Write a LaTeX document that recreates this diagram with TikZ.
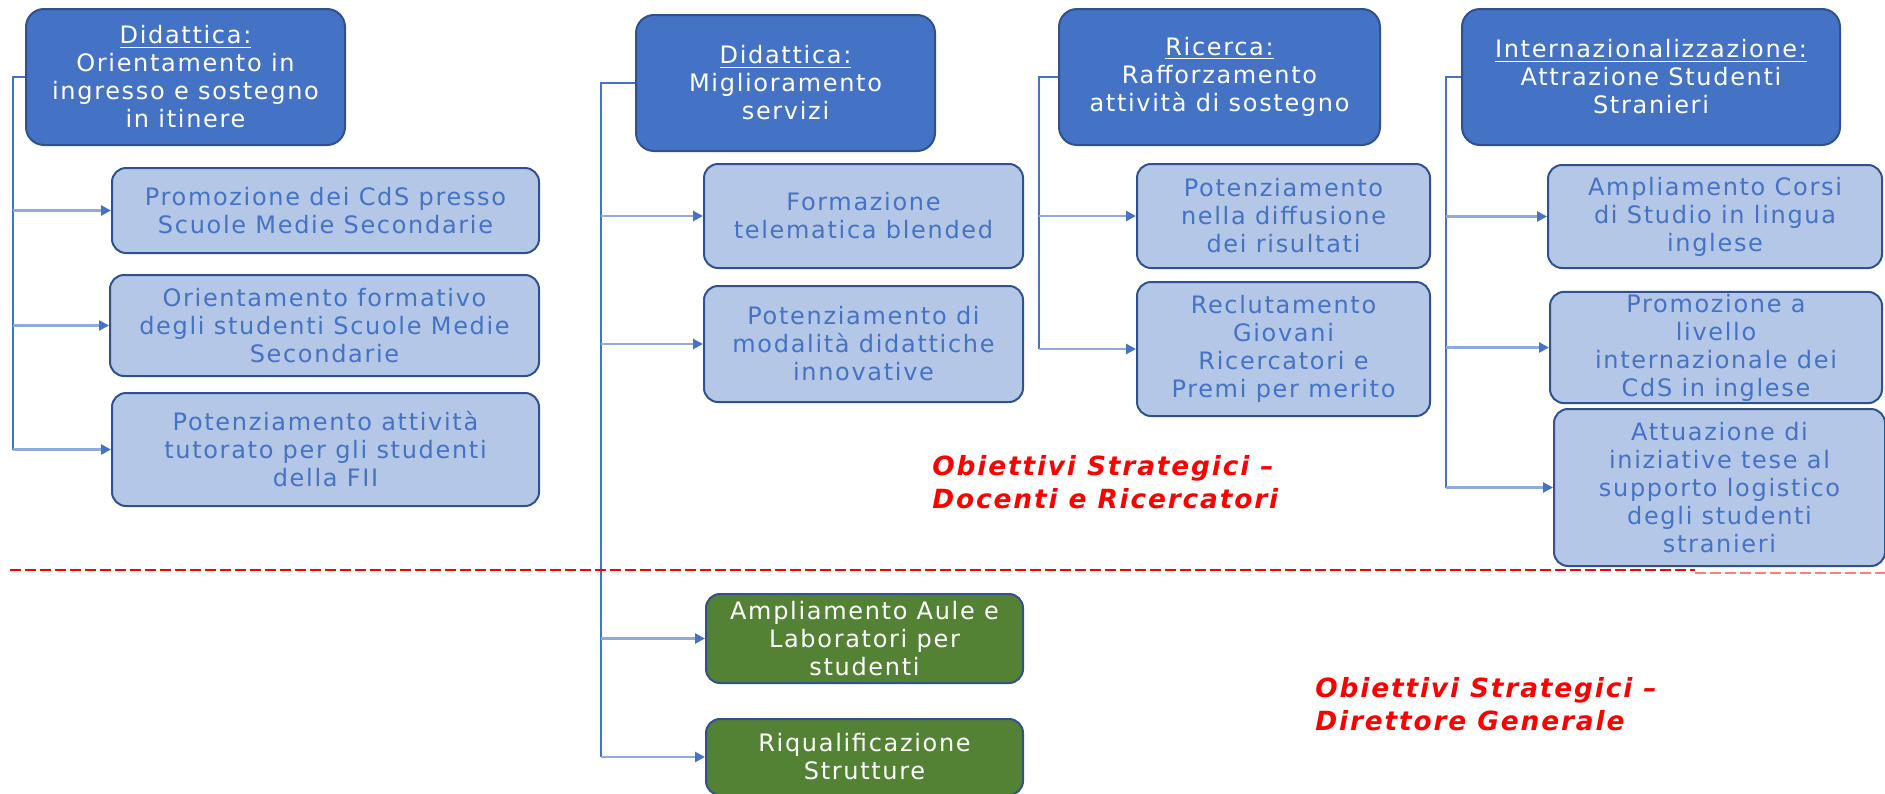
\documentclass[tikz,border=0pt]{standalone}
\usepackage{fontspec}
\setmainfont{DejaVu Sans}[LetterSpace=7]
\usetikzlibrary{arrows.meta,calc}
\definecolor{hdblue}{HTML}{4472C4}
\definecolor{edgeblue}{HTML}{2F528F}
\definecolor{subblue}{HTML}{B4C7E7}
\definecolor{lineblue}{HTML}{8FAADC}
\definecolor{grn}{HTML}{548235}
\definecolor{pinkred}{HTML}{FF7C80}
\tikzset{
  cell/.style={draw=edgeblue, line width=1pt, rounded corners=7pt, align=center, inner sep=1pt, font=\fontsize{12}{14}\selectfont},
  head/.style={cell, fill=hdblue, text=white, rounded corners=9pt},
  sub/.style={cell, fill=subblue, text=hdblue},
  grnbox/.style={cell, fill=grn, text=white},
  trunk/.style={draw=hdblue, line width=1.4pt},
  branch/.style={draw=lineblue, line width=1.4pt, -{Triangle[length=5pt,width=5pt,color=hdblue]}},
  redtxt/.style={text=red, font=\fontsize{13.2}{16.5}\selectfont\bfseries\itshape, align=left, anchor=north west, inner sep=0pt}
}

\begin{document}
\begin{tikzpicture}[x=0.5pt,y=-0.5pt]
	%%%%% START %%%%%
	\useasboundingbox (0,0) rectangle (1885,793);
	
	% didattica: orientamento
	\node[head, minimum width=159.5pt, minimum height=68pt] (h1) at (185.5,77) {\underline{Didattica:}\\Orientamento in\\ingresso e sostegno\\in itinere};
	\node[sub, minimum width=213.5pt, minimum height=42.5pt] (a1) at (325.5,210.5) {Promozione dei CdS presso\\Scuole Medie Secondarie};
	\node[sub, minimum width=214.5pt, minimum height=50.5pt] (a2) at (324.5,325.5) {Orientamento formativo\\degli studenti Scuole Medie\\Secondarie};
	\node[sub, minimum width=213.5pt, minimum height=56.5pt] (a3) at (325.5,449.5) {Potenziamento attività\\tutorato per gli studenti\\della FII};
	
	% didattica: servizi
	\node[head, minimum width=149.5pt, minimum height=68pt] (h2) at (785.5,83) {\underline{Didattica:}\\Miglioramento\\servizi};
	\node[sub, minimum width=159.5pt, minimum height=52pt] (b1) at (863.5,216) {Formazione\\telematica blended};
	\node[sub, minimum width=159.5pt, minimum height=58pt] (b2) at (863.5,344) {Potenziamento di\\modalità didattiche\\innovative};
	\node[grnbox, minimum width=158.5pt, minimum height=44.5pt] (g1) at (864.5,638.5) {Ampliamento Aule e\\Laboratori per\\studenti};
	\node[grnbox, minimum width=158.5pt, minimum height=38pt] (g2) at (864.5,757) {Riqualificazione\\Strutture};
	
	% ricerca
	\node[head, minimum width=160.5pt, minimum height=68pt] (h3) at (1219.5,77) {\underline{Ricerca:}\\Rafforzamento\\attività di sostegno};
	\node[sub, minimum width=146.5pt, minimum height=52pt] (c1) at (1283.5,216) {Potenziamento\\nella diffusione\\dei risultati};
	\node[sub, minimum width=146.5pt, minimum height=67pt] (c2) at (1283.5,349) {Reclutamento\\Giovani\\Ricercatori e\\Premi per merito};
	
	% internazionalizzazione
	\node[head, minimum width=189pt, minimum height=68pt] (h4) at (1651,77) {\underline{Internazionalizzazione:}\\Attrazione Studenti\\Stranieri};
	\node[sub, minimum width=167pt, minimum height=51.5pt] (d1) at (1715,216.5) {Ampliamento Corsi\\di Studio in lingua\\inglese};
	\node[sub, minimum width=166pt, minimum height=55.5pt] (d2) at (1716,347.5) {Promozione a\\livello\\internazionale dei\\CdS in inglese};
	\node[sub, minimum width=165.5pt, minimum height=78.5pt] (d3) at (1719.5,487.5) {Attuazione di\\iniziative tese al\\supporto logistico\\degli studenti\\stranieri};
	
	% connectors
	\draw[trunk] (h1.west) -- ++(-12,0) coordinate (t1) -- (t1 |- a3.west);
	\foreach \n in {a1,a2,a3} \draw[branch] (t1 |- \n.west) -- (\n.west);
	\draw[trunk] (h2.west) -- ++(-34,0) coordinate (t2) -- (t2 |- g2.west);
	\foreach \n in {b1,b2,g1,g2} \draw[branch] (t2 |- \n.west) -- (\n.west);
	\draw[trunk] (h3.west) -- ++(-19,0) coordinate (t3) -- (t3 |- c2.west);
	\foreach \n in {c1,c2} \draw[branch] (t3 |- \n.west) -- (\n.west);
	\draw[trunk] (h4.west) -- ++(-15,0) coordinate (t4) -- (t4 |- d3.west);
	\foreach \n in {d1,d2,d3} \draw[branch] (t4 |- \n.west) -- (\n.west);
	
	% separation line
	\draw[red, line width=1.35pt, dash pattern=on 5.5pt off 2pt] (10,570) -- (1695,570);
	\draw[pinkred, line width=1.35pt, dash pattern=on 5.5pt off 2pt] (1695,573) -- (1885,573);
	
	\node[redtxt] (ob1) at (932,455) {Obiettivi Strategici –\\Docenti e Ricercatori};
	\node[redtxt] (ob2) at (1315,677) {Obiettivi Strategici –\\Direttore Generale};
	
	%%%%% END %%%%%
\end{tikzpicture}
\end{document}
